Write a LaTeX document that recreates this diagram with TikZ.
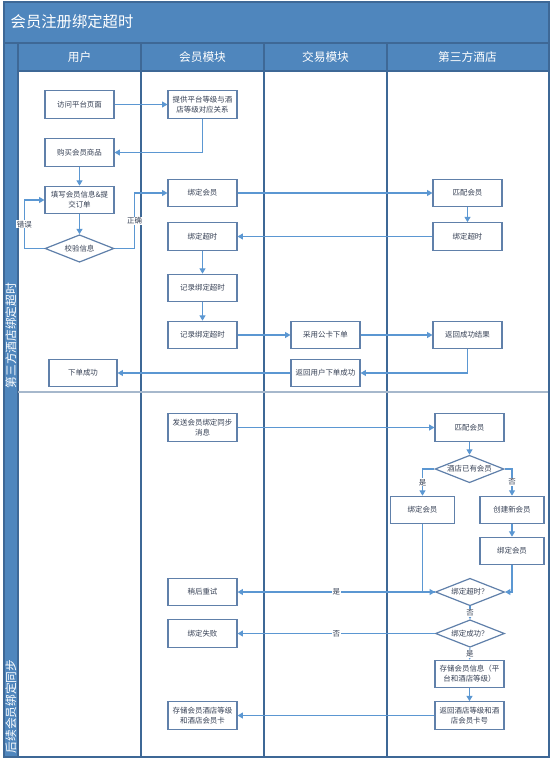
\documentclass[tikz,border=0pt]{standalone}
\usepackage{fontspec}
\setmainfont{Noto Sans CJK SC}
\usetikzlibrary{arrows.meta,shapes.geometric}

\definecolor{laneblue}{RGB}{79,134,189}
\definecolor{lanedark}{RGB}{62,104,150}
\definecolor{lanegrey}{RGB}{166,184,204}
\definecolor{boxline}{RGB}{96,128,170}
\definecolor{flowblue}{RGB}{91,151,210}
\definecolor{boxtext}{RGB}{55,65,85}

\tikzset{
    task/.style={draw=boxline,line width=0.9pt,fill=white,minimum width=51.75pt,minimum height=20.6pt,
        align=center,inner sep=1pt,text=boxtext,font=\fontsize{5.6}{7.5}\selectfont},
    check/.style={diamond,draw=boxline,line width=0.9pt,fill=white,minimum width=51.75pt,minimum height=20.6pt,
        aspect=2.5,inner sep=0pt,text=boxtext,font=\fontsize{5.6}{7.5}\selectfont},
    flow/.style={draw=flowblue,line width=0.8pt,-{Triangle[width=4.5pt,length=4pt]}},
    answer/.style={fill=white,inner sep=0.6pt,text=boxtext,font=\fontsize{5.6}{7}\selectfont},
    lanehead/.style={text=white,font=\fontsize{8.8}{10}\selectfont}
}

\begin{document}
\begin{tikzpicture}[x=0.75pt,y=-0.75pt]
                            \useasboundingbox (0,0) rectangle (553,763);

                            % Lanes
                            \fill[laneblue] (4,2) rectangle (549,71);
                            \fill[laneblue] (4,71) rectangle (18,757);
                            \draw[lanedark,line width=0.9pt] (4,43) -- (549,43) (18,71) -- (549,71);
                            \foreach \lx in {18,141,264,387}
                                \draw[lanedark,line width=0.9pt] (\lx,43) -- (\lx,757);
                            \draw[lanegrey,line width=1.4pt] (18,392) -- (549,392);
                            \draw[lanedark,line width=0.9pt] (4,2) rectangle (549,757);

                            \node[anchor=west,text=white,font=\fontsize{11.5}{13}\selectfont] (title) at (6,22) {会员注册绑定超时};
                            \node[lanehead] (user) at (79.5,57) {用户};
                            \node[lanehead] (member) at (202.5,57) {会员模块};
                            \node[lanehead] (trade) at (325.5,57) {交易模块};
                            \node[lanehead] (hotel) at (467.5,57) {第三方酒店};
                            \node[lanehead,rotate=90,anchor=west,inner sep=1pt] (phaseA) at (11,390) {第三方酒店绑定超时};
                            \node[lanehead,rotate=90,anchor=west,inner sep=1pt] (phaseB) at (11,755) {后续会员绑定同步};

                            % Order with timeout
                            \node[task] (visit) at (79.5,104.5) {访问平台页面};
                            \node[task] (levels) at (202.5,104.5) {提供平台等级与酒\\店等级对应关系};
                            \node[task] (buy) at (79.5,152.5) {购买会员商品};
                            \node[task] (fill) at (79.5,200) {填写会员信息\&提\\交订单};
                            \node[check] (verify) at (79.5,248.5) {校验信息};
                            \node[task] (bind) at (202.5,193) {绑定会员};
                            \node[task] (timeout) at (202.5,236.5) {绑定超时};
                            \node[task] (logA) at (202.5,288) {记录绑定超时};
                            \node[task] (logB) at (202.5,335) {记录绑定超时};
                            \node[task,minimum width=51pt] (done) at (83,373) {下单成功};
                            \node[task] (match) at (467.5,193) {匹配会员};
                            \node[task] (hoteltimeout) at (467.5,236.5) {绑定超时};
                            \node[task] (publiccard) at (325.5,335) {采用公卡下单};
                            \node[task] (result) at (467.5,335) {返回成功结果};
                            \node[task] (tell) at (325.5,373) {返回用户下单成功};

                            \draw[flow] (visit) -- (levels);
                            \draw[flow] (levels) |- (buy);
                            \draw[flow] (buy) -- (fill);
                            \draw[flow] (fill) -- (verify);
                            \draw[flow] (verify.west) -- ++(-20,0) |- node[answer,pos=0.25]{错误} (fill.west);
                            \draw[flow] (verify.east) -- ++(20,0) |- node[answer,pos=0.25]{正确} (bind.west);
                            \draw[flow] (bind) -- (match);
                            \draw[flow] (match) -- (hoteltimeout);
                            \draw[flow] (hoteltimeout) -- (timeout);
                            \draw[flow] (timeout) -- (logA);
                            \draw[flow] (logA) -- (logB);
                            \draw[flow] (logB) -- (publiccard);
                            \draw[flow] (publiccard) -- (result);
                            \draw[flow] (result) |- (tell);
                            \draw[flow] (tell) -- (done);

                            % Later sync
                            \node[task] (sync) at (202.5,427.5) {发送会员绑定同步\\消息};
                            \node[task] (matchB) at (469.5,427.5) {匹配会员};
                            \node[check] (hasmember) at (469.5,469) {酒店已有会员};
                            \node[task,minimum width=48.5pt] (bindB) at (422.5,510) {绑定会员};
                            \node[task,minimum width=48pt] (create) at (512,510) {创建新会员};
                            \node[task,minimum width=48pt] (bindC) at (512,551) {绑定会员};
                            \node[check] (late) at (470,592) {绑定超时？};
                            \node[check] (ok) at (470,633.5) {绑定成功？};
                            \node[task] (store) at (469.5,674) {存储会员信息（平\\台和酒店等级）};
                            \node[task] (reply) at (469.5,715.5) {返回酒店等级和酒\\店会员卡号};
                            \node[task] (retry) at (202.5,592) {稍后重试};
                            \node[task] (fail) at (202.5,633.5) {绑定失败};
                            \node[task] (keep) at (202.5,715.5) {存储会员酒店等级\\和酒店会员卡};

                            \draw[flow] (sync) -- (matchB);
                            \draw[flow] (matchB) -- (hasmember);
                            \draw[flow] (hasmember.west) -| node[answer,pos=0.75]{是} (bindB);
                            \draw[flow] (hasmember.east) -| node[answer,pos=0.75]{否} (create);
                            \draw[flow] (create) -- (bindC);
                            \draw[flow] (bindB) |- (late.west);
                            \draw[flow] (bindC) |- (late.east);
                            \draw[flow] (late) -- node[answer]{是} (retry);
                            \draw[flow] (late) -- node[answer]{否} (ok);
                            \draw[flow] (ok) -- node[answer]{否} (fail);
                            \draw[flow] (ok) -- node[answer]{是} (store);
                            \draw[flow] (store) -- (reply);
                            \draw[flow] (reply) -- (keep);

                      \end{tikzpicture}
\end{document}
